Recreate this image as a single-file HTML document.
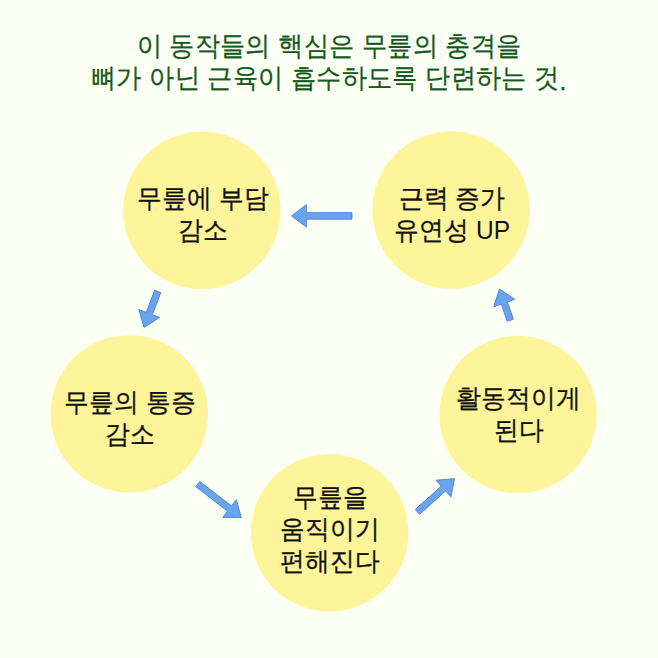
<!DOCTYPE html>
<html><head><meta charset="utf-8">
<style>
html,body{margin:0;padding:0;}
body{width:658px;height:658px;background:#fcfff3;position:relative;overflow:hidden;font-family:"Liberation Sans",sans-serif;}
.title{position:absolute;left:0px;width:658px;text-align:center;color:#17581c;font-size:25px;line-height:33.5px;white-space:nowrap;letter-spacing:0.4px;-webkit-text-stroke:0.25px #17581c;transform:scaleY(1.07);transform-origin:50% 50%;}
.t{position:absolute;width:300px;text-align:center;color:#111111;font-size:24.5px;line-height:30.5px;white-space:nowrap;-webkit-text-stroke:0.3px #111111;transform:scaleY(1.05);transform-origin:50% 50%;}
svg{position:absolute;left:0;top:0;}
.lat{-webkit-text-stroke:0px #111111;}
</style></head><body>
<svg width="658" height="658" viewBox="0 0 658 658">
<g fill="#fef59a">
<circle cx="202" cy="210.2" r="78.75"/>
<circle cx="451.2" cy="209.9" r="78.75"/>
<circle cx="129.3" cy="413.8" r="78.75"/>
<circle cx="329.7" cy="532.7" r="78.75"/>
<circle cx="518.2" cy="414.5" r="78.75"/>
</g>
<g fill="#6aa3ee" stroke="#5688d0" stroke-width="1.0" stroke-linejoin="miter">
<polygon points="351.90,212.65 306.30,212.65 306.30,204.70 291.50,215.90 306.30,227.10 306.30,219.15 351.90,219.15"/>
<polygon points="154.68,290.31 146.28,312.36 138.85,309.53 144.05,327.35 159.79,317.50 152.36,314.67 160.76,292.62"/>
<polygon points="195.81,486.68 227.54,511.12 222.69,517.41 241.25,517.57 236.36,499.67 231.50,505.97 199.78,481.53"/>
<polygon points="419.64,514.29 445.63,490.97 450.94,496.89 454.48,478.67 435.98,480.21 441.29,486.13 415.30,509.45"/>
<polygon points="513.40,319.15 507.39,301.96 514.89,299.33 499.43,289.06 493.75,306.73 501.25,304.10 507.27,321.30"/>
</g>
</svg>
<div class="title" style="top:29px">이 동작들의 핵심은 무릎의 충격을</div>
<div class="title" style="top:60.7px">뼈가 아닌 근육이 흡수하도록 단련하는 것<span style="position:relative;top:2.5px">.</span></div>
<div class="t" style="left:53.30000000000001px;top:184.1px">무릎에 부담<br>감소</div>
<div class="t" style="left:302.1px;top:184.1px">근력 증가<br>유연성 <span class="lat">UP</span></div>
<div class="t" style="left:-20px;top:388.1px">무릎의 통증<br>감소</div>
<div class="t" style="left:180px;top:484.1px">무릎을<br>움직이기<br>편해진다</div>
<div class="t" style="left:368.5px;top:384.2px">활동적이게<br>된다</div>
</body></html>
